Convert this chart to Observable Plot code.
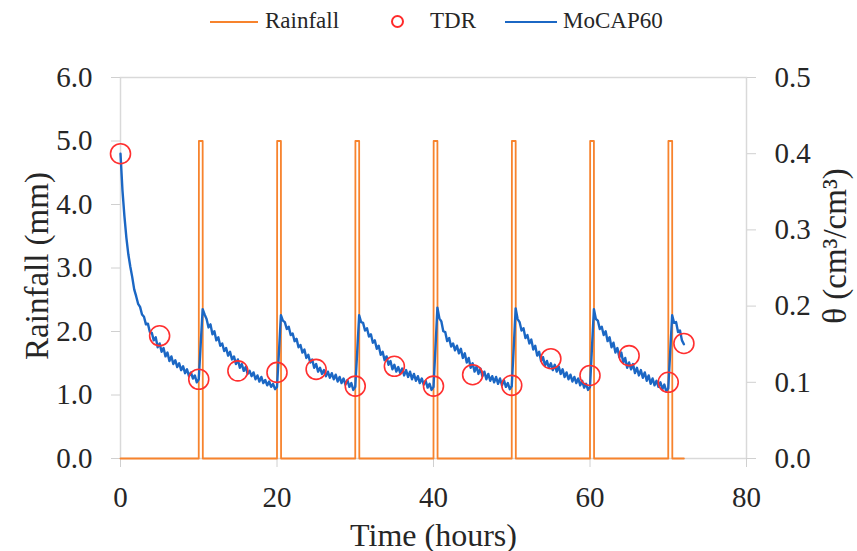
<!DOCTYPE html>
<html>
<head>
<meta charset="utf-8">
<script src="https://cdn.jsdelivr.net/npm/d3@7"></script>
<script src="https://cdn.jsdelivr.net/npm/@observablehq/plot@0.6"></script>
<style>
  html, body { margin: 0; padding: 0; background: #fff; }
  #wrap { width: 857px; font-family: "Liberation Serif", "DejaVu Serif", serif; color: #262626; }
  #legend { position: relative; height: 44px; font-size: 23px; }
  #legend .sw { position: absolute; height: 2px; top: 21px; }
  #legend .tx { position: absolute; top: 7px; line-height: 28px; }
  #legend .ring { position: absolute; width: 9px; height: 9px; border: 2.5px solid #ff2a2a; border-radius: 50%; left: 391px; top: 15px; }
</style>
</head>
<body>
<div id="wrap">
  <div id="legend">
    <div class="sw" style="left:210px;width:48px;background:#f7832d"></div>
    <div class="tx" style="left:265px">Rainfall</div>
    <div class="ring"></div>
    <div class="tx" style="left:430px">TDR</div>
    <div class="sw" style="left:505px;width:52px;background:#1b67c4"></div>
    <div class="tx" style="left:563px">MoCAP60</div>
  </div>
  <div id="chart"></div>
</div>
<script>
// Rainfall (mm) series
const rainTime = [0, 10, 10.02, 10.5, 10.52, 20, 20.02, 20.5, 20.52, 30, 30.02, 30.5, 30.52,
  40, 40.02, 40.5, 40.52, 50, 50.02, 50.5, 50.52, 60, 60.02, 60.5, 60.52, 70, 70.02, 70.5, 70.52, 72];
const rainMm = [0, 0, 5, 5, 0, 0, 5, 5, 0, 0, 5, 5, 0,
  0, 5, 5, 0, 0, 5, 5, 0, 0, 5, 5, 0, 0, 5, 5, 0, 0];

// TDR measurements (theta, cm3/cm3)
const tdrTime = [0, 5, 10, 15, 20, 25, 30, 35, 40, 45, 50, 55, 60, 65, 70, 72];
const tdrTheta = [0.400, 0.161, 0.104, 0.115, 0.113, 0.117, 0.095, 0.121, 0.095, 0.110, 0.096, 0.131, 0.109, 0.135, 0.100, 0.151];

// MoCAP60 sensor readings (hours, theta cm3/cm3), one row per rainfall cycle
const moTime = [
  0, 0.25, 0.5, 0.75, 1, 1.25, 1.5, 1.75, 2, 2.25, 2.5, 2.75, 3, 3.25, 3.5, 3.75, 4, 4.25, 4.5, 4.75, 5, 5.25, 5.5, 5.75, 6, 6.25, 6.5, 6.75, 7, 7.25, 7.5, 7.75, 8, 8.25, 8.5, 8.75, 9, 9.25, 9.5, 9.75, 10,
  10.25, 10.5, 10.75, 11, 11.25, 11.5, 11.75, 12, 12.25, 12.5, 12.75, 13, 13.25, 13.5, 13.75, 14, 14.25, 14.5, 14.75, 15, 15.25, 15.5, 15.75, 16, 16.25, 16.5, 16.75, 17, 17.25, 17.5, 17.75, 18, 18.25, 18.5, 18.75, 19, 19.25, 19.5, 19.75, 20,
  20.25, 20.5, 20.75, 21, 21.25, 21.5, 21.75, 22, 22.25, 22.5, 22.75, 23, 23.25, 23.5, 23.75, 24, 24.25, 24.5, 24.75, 25, 25.25, 25.5, 25.75, 26, 26.25, 26.5, 26.75, 27, 27.25, 27.5, 27.75, 28, 28.25, 28.5, 28.75, 29, 29.25, 29.5, 29.75, 30,
  30.25, 30.5, 30.75, 31, 31.25, 31.5, 31.75, 32, 32.25, 32.5, 32.75, 33, 33.25, 33.5, 33.75, 34, 34.25, 34.5, 34.75, 35, 35.25, 35.5, 35.75, 36, 36.25, 36.5, 36.75, 37, 37.25, 37.5, 37.75, 38, 38.25, 38.5, 38.75, 39, 39.25, 39.5, 39.75, 40,
  40.25, 40.5, 40.75, 41, 41.25, 41.5, 41.75, 42, 42.25, 42.5, 42.75, 43, 43.25, 43.5, 43.75, 44, 44.25, 44.5, 44.75, 45, 45.25, 45.5, 45.75, 46, 46.25, 46.5, 46.75, 47, 47.25, 47.5, 47.75, 48, 48.25, 48.5, 48.75, 49, 49.25, 49.5, 49.75, 50,
  50.25, 50.5, 50.75, 51, 51.25, 51.5, 51.75, 52, 52.25, 52.5, 52.75, 53, 53.25, 53.5, 53.75, 54, 54.25, 54.5, 54.75, 55, 55.25, 55.5, 55.75, 56, 56.25, 56.5, 56.75, 57, 57.25, 57.5, 57.75, 58, 58.25, 58.5, 58.75, 59, 59.25, 59.5, 59.75, 60,
  60.25, 60.5, 60.75, 61, 61.25, 61.5, 61.75, 62, 62.25, 62.5, 62.75, 63, 63.25, 63.5, 63.75, 64, 64.25, 64.5, 64.75, 65, 65.25, 65.5, 65.75, 66, 66.25, 66.5, 66.75, 67, 67.25, 67.5, 67.75, 68, 68.25, 68.5, 68.75, 69, 69.25, 69.5, 69.75, 70,
  70.25, 70.5, 70.75, 71, 71.25, 71.5, 71.75, 72];
const moTheta = [
  0.400, 0.352, 0.318, 0.290, 0.268, 0.252, 0.238, 0.222, 0.213, 0.203, 0.199, 0.189, 0.186, 0.176, 0.177, 0.166, 0.165, 0.155, 0.159, 0.146, 0.151, 0.140, 0.145, 0.134, 0.139, 0.128, 0.134, 0.124, 0.129, 0.120, 0.125, 0.116, 0.121, 0.112, 0.117, 0.108, 0.113, 0.105, 0.109, 0.100, 0.104,
  0.150, 0.196, 0.189, 0.183, 0.172, 0.176, 0.163, 0.167, 0.155, 0.159, 0.148, 0.151, 0.141, 0.145, 0.135, 0.140, 0.130, 0.134, 0.124, 0.130, 0.119, 0.124, 0.115, 0.120, 0.111, 0.115, 0.108, 0.113, 0.104, 0.109, 0.101, 0.107, 0.099, 0.103, 0.096, 0.101, 0.094, 0.098, 0.091, 0.094,
  0.140, 0.188, 0.181, 0.179, 0.170, 0.173, 0.162, 0.164, 0.154, 0.157, 0.146, 0.149, 0.139, 0.143, 0.132, 0.136, 0.126, 0.130, 0.119, 0.124, 0.114, 0.119, 0.111, 0.116, 0.108, 0.114, 0.106, 0.112, 0.104, 0.110, 0.101, 0.107, 0.099, 0.105, 0.097, 0.103, 0.094, 0.099, 0.090, 0.094,
  0.140, 0.188, 0.179, 0.178, 0.168, 0.171, 0.160, 0.163, 0.152, 0.155, 0.144, 0.148, 0.136, 0.140, 0.129, 0.134, 0.123, 0.128, 0.117, 0.123, 0.114, 0.120, 0.112, 0.118, 0.109, 0.116, 0.107, 0.114, 0.104, 0.111, 0.102, 0.108, 0.099, 0.105, 0.097, 0.102, 0.093, 0.098, 0.090, 0.094,
  0.145, 0.198, 0.184, 0.180, 0.167, 0.166, 0.154, 0.158, 0.147, 0.151, 0.142, 0.148, 0.138, 0.144, 0.132, 0.138, 0.126, 0.132, 0.119, 0.125, 0.114, 0.121, 0.111, 0.118, 0.108, 0.114, 0.104, 0.111, 0.102, 0.108, 0.100, 0.107, 0.098, 0.105, 0.096, 0.103, 0.094, 0.099, 0.091, 0.095,
  0.145, 0.197, 0.183, 0.179, 0.168, 0.171, 0.158, 0.162, 0.151, 0.156, 0.143, 0.148, 0.135, 0.140, 0.128, 0.133, 0.122, 0.128, 0.119, 0.125, 0.116, 0.123, 0.114, 0.121, 0.111, 0.117, 0.107, 0.113, 0.104, 0.110, 0.101, 0.107, 0.099, 0.105, 0.096, 0.102, 0.093, 0.098, 0.090, 0.094,
  0.145, 0.196, 0.183, 0.181, 0.170, 0.173, 0.162, 0.167, 0.154, 0.159, 0.146, 0.152, 0.139, 0.145, 0.133, 0.139, 0.126, 0.132, 0.119, 0.126, 0.117, 0.124, 0.112, 0.119, 0.109, 0.116, 0.106, 0.113, 0.102, 0.109, 0.098, 0.105, 0.096, 0.102, 0.094, 0.100, 0.091, 0.097, 0.088, 0.092,
  0.140, 0.188, 0.178, 0.179, 0.166, 0.168, 0.155, 0.150];

// Axis ticks and titles
const xTicks = [0, 20, 40, 60, 80];
const leftTicks = [0, 1, 2, 3, 4, 5, 6];
const rightTicks = [0, 0.1, 0.2, 0.3, 0.4, 0.5];
const xTitle = "Time (hours)";
const leftTitle = "Rainfall (mm)";
const rightTitle = "θ (cm³/cm³)";

const SCALE = 12; // 0.5 cm3/cm3 on the right axis == 6.0 mm on the left axis

const rain = rainTime.map((t, i) => ({t, mm: rainMm[i]}));
const tdr = tdrTime.map((t, i) => ({t, theta: tdrTheta[i]}));
const mocap = moTime.map((t, i) => ({t, theta: moTheta[i]})).filter(d => d.theta !== undefined);

const ink = "#262626";
const axisCommon = {tickSize: 9, stroke: "#d0d0d0", color: ink, fontSize: 29, label: null};

const chart = Plot.plot({
  width: 857,
  height: 507,
  marginTop: 33,
  marginBottom: 93,
  marginLeft: 120,
  marginRight: 111,
  style: {fontFamily: "'Liberation Serif', 'DejaVu Serif', serif", fontSize: "29px", color: ink, background: "#fff", overflow: "visible"},
  x: {domain: [0, 80]},
  y: {domain: [0, 6]},
  marks: [
    Plot.frame({stroke: "#d9d9d9", strokeWidth: 1.5}),
    Plot.axisY({...axisCommon, ticks: leftTicks, tickFormat: d => d.toFixed(1), tickPadding: 19}),
    Plot.axisY({...axisCommon, anchor: "right", ticks: rightTicks.map(v => v * SCALE),
      tickFormat: d => (d / SCALE).toFixed(1), tickPadding: 19}),
    Plot.axisX({...axisCommon, ticks: xTicks, tickFormat: d => String(d), tickPadding: 19}),
    Plot.text([leftTitle], {frameAnchor: "left", dx: -83, dy: -2, rotate: -90, textAnchor: "middle", lineAnchor: "middle", fontSize: 33, fill: ink}),
    Plot.text([rightTitle], {frameAnchor: "right", dx: 89, dy: -22, rotate: -90, textAnchor: "middle", lineAnchor: "middle", fontSize: 33, fill: ink}),
    Plot.text([xTitle], {frameAnchor: "bottom", dy: 77, textAnchor: "middle", lineAnchor: "middle", fontSize: 32, fill: ink}),
    Plot.line(rain, {x: "t", y: "mm", stroke: "#f7832d", strokeWidth: 1.8}),
    Plot.line(mocap, {x: "t", y: d => d.theta * SCALE, stroke: "#1b67c4", strokeWidth: 2.4}),
    Plot.dot(tdr, {x: "t", y: d => d.theta * SCALE, r: 10, stroke: "#ff2f2f", strokeWidth: 1.6, fill: "none"})
  ]
});
document.getElementById("chart").appendChild(chart);
</script>
</body>
</html>
